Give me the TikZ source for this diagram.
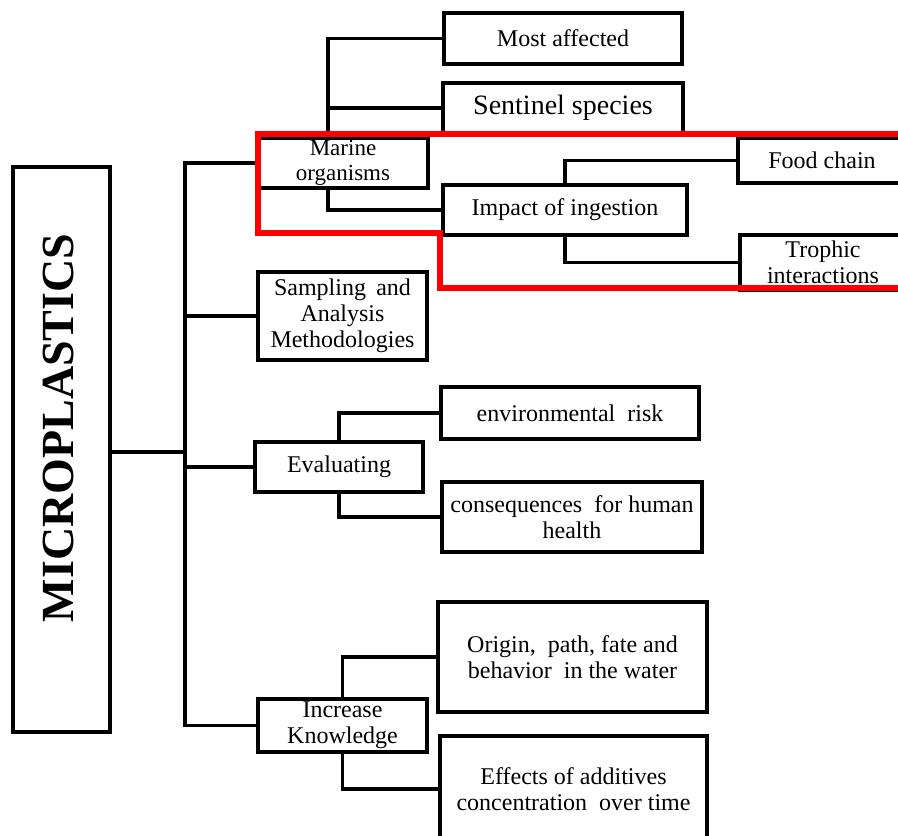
\documentclass[tikz,border=0pt]{standalone}
\usepackage{fontspec}
\setmainfont{Liberation Serif}
\begin{document}
\begin{tikzpicture}[x=1pt,y=-1pt,
  box/.style={draw, line width=3.8pt, inner sep=0pt, align=center, font=\fontsize{24}{26}\selectfont},
  conn/.style={line width=3.8pt},
  hl/.style={draw=red, line width=5.5pt}]
\useasboundingbox (0,0) rectangle (898,836);
\clip (0,0) rectangle (898,836);
% root
\node[box, minimum width=97pt, minimum height=565pt] (micro) at (61.5,449.5) {};
\node[rotate=90, inner sep=0pt, font=\bfseries\fontsize{46}{50}\selectfont] (microtext) at (58,428) {MICROPLASTICS};
% level 1
\node[box, minimum width=170pt, minimum height=50pt, font=\fontsize{23}{25}\selectfont] (marine) at (343,163) {Marine\\organisms};
\node[box, minimum width=169pt, minimum height=88pt] (sampling) at (342.5,316) {\makebox[137pt][s]{Sampling and}\\Analysis\\Methodologies};
\node[box, minimum width=168pt, minimum height=50pt] (evaluating) at (339,467) {Evaluating};
\node[box, minimum width=169pt, minimum height=53pt] (increase) at (342.5,725.5) {Increase\\Knowledge};
% level 2
\node[box, minimum width=238pt, minimum height=51pt] (most) at (563,38.5) {Most affected};
\node[box, minimum width=240pt, minimum height=50pt, font=\fontsize{28}{30}\selectfont] (sentinel) at (563,108) {Sentinel species};
\node[box, minimum width=244pt, minimum height=50pt] (impact) at (565,210) {Impact of ingestion};
\node[box, minimum width=258pt, minimum height=52pt] (envrisk) at (570,413) {environmental \ risk};
\node[box, minimum width=260pt, minimum height=70pt] (conseq) at (572,517) {consequences \ for human\\health};
\node[box, minimum width=269pt, minimum height=110pt] (origin) at (572.5,657) {Origin, \ path, fate and\\behavior \ in the water};
\node[box, minimum width=267pt, minimum height=106pt] (effects) at (573.5,789) {Effects of additives\\concentration \ over time};
% level 3
\node[box, minimum width=168pt, minimum height=45pt] (food) at (822,160.5) {Food chain};
\node[box, minimum width=166pt, minimum height=55pt] (trophic) at (823,262.5) {Trophic\\interactions};
% connectors
\coordinate (trunk) at (185,452);
\coordinate (mup) at (328,138);
\coordinate (mdown) at (328,188);
\draw[conn] (micro.east |- trunk) -- (trunk);
\draw[conn] (marine.west) -| (trunk) |- (increase.west);
\draw[conn] (sampling.west) -- (sampling.west -| trunk);
\draw[conn] (evaluating.west) -- (evaluating.west -| trunk);
\draw[conn] (most.west) -| (mup);
\draw[conn] (sentinel.west) -- (sentinel.west -| mup);
\draw[conn] (mdown) |- (impact.west);
\draw[conn] (impact.north) |- (food.west);
\draw[conn] (impact.south) |- (trophic.west);
\draw[conn] (evaluating.north) |- (envrisk.west);
\draw[conn] (evaluating.south) |- (conseq.west);
\draw[conn] (increase.north) |- (origin.west);
\draw[conn] (increase.south) |- (effects.west);
% highlight
\draw[hl] (898,134) -- (258,134) -- (258,233) -- (440,233) -- (440,288) -- (898,288);
\end{tikzpicture}
\end{document}
